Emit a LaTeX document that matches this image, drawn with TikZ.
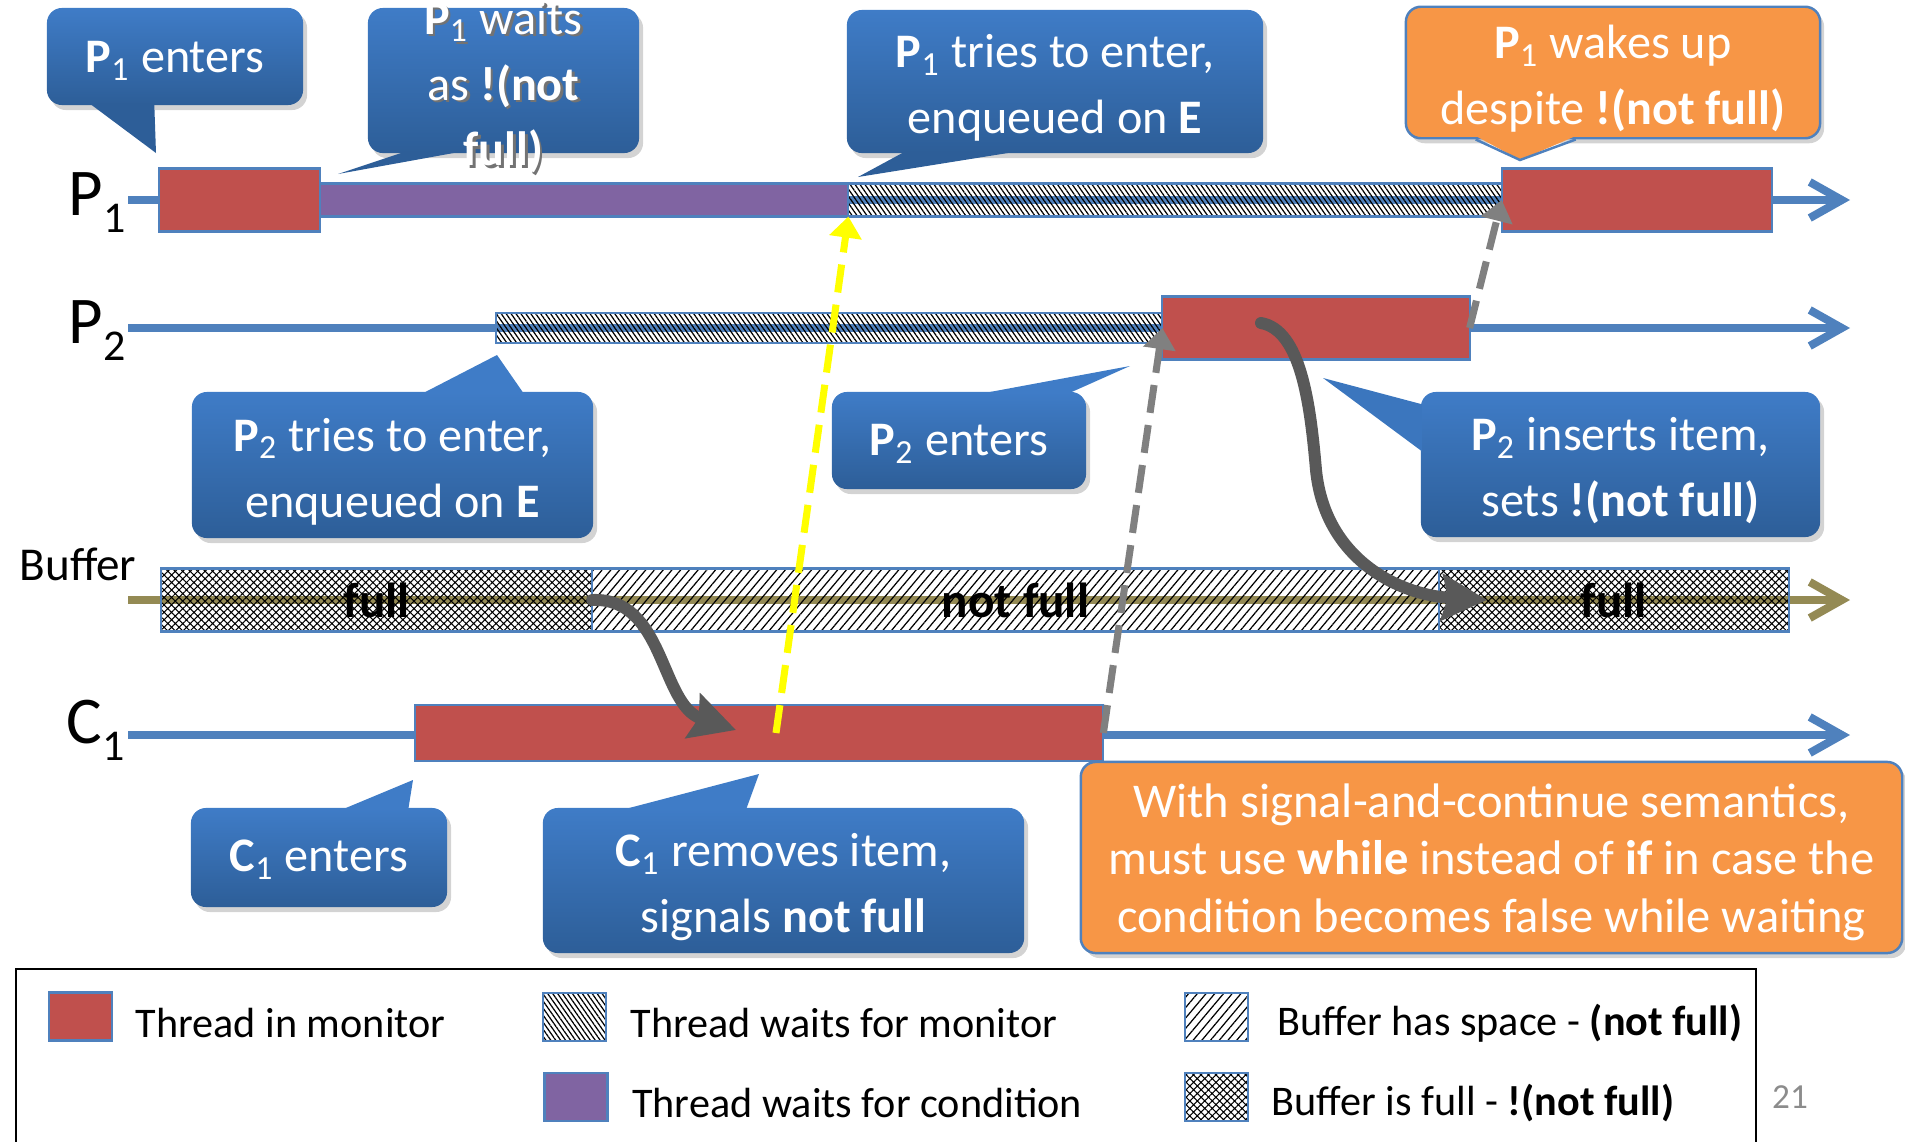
\documentclass[tikz,border=0pt]{standalone}
\usepackage{fontspec}
\setmainfont{Carlito}
\usetikzlibrary{positioning,arrows.meta,patterns.meta,shadows}

\definecolor{lineblue}{HTML}{4F81BD}
\definecolor{monred}{HTML}{C0504D}
\definecolor{condpurple}{HTML}{8064A2}
\definecolor{bufolive}{HTML}{948A54}
\definecolor{notetop}{HTML}{3F7CC7}
\definecolor{notebot}{HTML}{2D5E98}
\definecolor{noteorange}{HTML}{F79646}
\definecolor{arrowgray}{HTML}{808080}
\definecolor{flowgray}{HTML}{595959}
\definecolor{signyellow}{HTML}{FFFF00}

\newcommand\notefont{\fontsize{13.7}{18.7}\selectfont}
\newcommand\rowsub[1]{\raisebox{-0.17cm}{\fontsize{12.5}{12.5}\selectfont #1}}
% text of a callout, set a little below the middle of its box
\newcommand\notelines[2][-0.06cm]{\raisebox{#1}[\height][\depth]{\begin{tabular}{@{}c@{}}#2\end{tabular}}}
% white text with a grey shadow, for text that runs out of its box
\newcommand\shadowed[1]{\makebox[0pt][l]{\kern0.7pt\raisebox{-0.7pt}{\textcolor{black!55}{#1}}}#1}

\tikzset{
  rowline/.style={lineblue, line width=2.3pt, -{Straight Barb[length=0.32cm,width=0.36cm]}},
  rowlab/.style={font=\fontsize{19}{23}\selectfont, inner sep=0pt, anchor=base west},
  tbar/.style={draw=lineblue, line width=0.6pt, inner sep=0pt, outer sep=0pt, anchor=west},
  monpat/.style={pattern={Lines[angle=-55,distance=1.15pt,line width=0.35pt]}},
  spacepat/.style={pattern={Lines[angle=50,distance=1.9pt,line width=0.35pt]}},
  fullpat/.style={pattern={Hatch[angle=45,distance=1.5pt,line width=0.3pt]}},
  inmon/.style={tbar, fill=monred, minimum height=0.63cm},
  waitcond/.style={tbar, fill=condpurple, minimum height=0.33cm},
  waitmon/.style={tbar, monpat, minimum height=0.33cm},
  bufspace/.style={tbar, spacepat, minimum height=0.63cm, font=\fontsize{14}{16}\selectfont\bfseries},
  buffull/.style={tbar, fullpat, minimum height=0.63cm, font=\fontsize{14}{16}\selectfont\bfseries},
  notebox/.style={rounded corners=0.15cm, text=white, inner sep=0pt, font=\notefont,
    drop shadow={shadow xshift=0.04cm, shadow yshift=-0.05cm, opacity=0.35}},
  note/.style={notebox, top color=notetop, bottom color=notebot},
  warn/.style={notebox, fill=noteorange, draw=lineblue, line width=0.7pt},
  sigline/.style={line width=2pt, dash pattern=on 8pt off 3.5pt, -{Triangle[length=6pt,width=9pt]}},
  flow/.style={flowgray, line width=3.4pt, line cap=round, -{Stealth[length=0.45cm,width=0.46cm,inset=0.06cm]}},
  swatch/.style={draw=lineblue, line width=0.6pt, minimum width=0.63cm, minimum height=0.48cm, inner sep=0pt},
  legtext/.style={font=\fontsize{12}{15}\selectfont, inner sep=0pt, anchor=west, yshift=-0.06cm}
}

\begin{document}
\begin{tikzpicture}[x=0.01cm, y=-0.01cm]
\useasboundingbox (0,0) rectangle (1905,1142);

% time lines
\foreach \y in {200,328,735}
  \draw[rowline] (128,\y) -- (1850,\y);
\draw[rowline, bufolive] (128,600) -- (1850,600);

\node[rowlab] (p1lab) at (68,215) {P\rowsub{1}};
\node[rowlab] (p2lab) at (68,343) {P\rowsub{2}};
\node[rowlab] (c1lab) at (66,743) {C\rowsub{1}};
\node[rowlab, font=\fontsize{13.4}{16}\selectfont] (buflab) at (19,580) {Buffer};

% P1
\node[inmon, minimum width=1.61cm] (p1in) at (159,200) {};
\node[waitcond, minimum width=5.28cm, right=0pt of p1in] (p1cond) {};
\node[waitmon, minimum width=6.53cm, right=0pt of p1cond] (p1mon) {};
\node[inmon, minimum width=2.70cm, right=0pt of p1mon] (p1wake) {};

% P2
\node[waitmon, minimum width=6.66cm, minimum height=0.30cm] (p2mon) at (496,328) {};
\node[inmon, minimum width=3.07cm, right=0pt of p2mon] (p2in) {};

% Buffer
\node[buffull, minimum width=4.31cm] (buf1) at (161,600) {full};
\node[bufspace, minimum width=8.46cm, right=0pt of buf1] (buf2) {not full};
\node[buffull, minimum width=3.50cm, right=0pt of buf2] (buf3) {full};

% C1
\node[inmon, minimum width=6.88cm, minimum height=0.56cm] (c1in) at (415,733) {};

% callouts
\node[note, minimum width=2.56cm, minimum height=0.97cm] (p1enters) at (175,56.5) {\notelines[-0.03cm]{\textbf{P}\textsubscript{1} enters}};
\coordinate (p1enterstip) at (156,153);
\fill[notebot] ([xshift=0.44cm,yshift=0.5pt]p1enters.south west) -- (p1enterstip) -- ([xshift=1.08cm,yshift=0.5pt]p1enters.south west) -- cycle;

\node[note, minimum width=2.71cm, minimum height=1.45cm, inner ysep=-0.3cm] (p1waits) at (503.5,80.5) {\notelines[-0.065cm]{\shadowed{\textbf{P}\textsubscript{1} waits}\\\shadowed{as \textbf{!(not}}\\\shadowed{\textbf{full)}}}};
\coordinate (p1waitstip) at (338,174);
\fill[notebot] ([xshift=0.37cm,yshift=0.5pt]p1waits.south west) -- (p1waitstip) -- ([xshift=0.92cm,yshift=0.5pt]p1waits.south west) -- cycle;

\node[note, minimum width=4.16cm, minimum height=1.43cm] (p1tries) at (1055,81.5) {\notelines{\textbf{P}\textsubscript{1} tries to enter,\\enqueued on \textbf{E}}};
\coordinate (p1triestip) at (858,177);
\fill[notebot] ([xshift=0.58cm,yshift=0.5pt]p1tries.south west) -- (p1triestip) -- ([xshift=1.68cm,yshift=0.5pt]p1tries.south west) -- cycle;

\node[warn, minimum width=4.14cm, minimum height=1.29cm] (p1wakes) at (1613,72.5) {\notelines{\textbf{P}\textsubscript{1} wakes up\\despite \textbf{!(not full)}}};
\coordinate (p1wakestip) at (1520,160);
\fill[noteorange] ([xshift=0.71cm,yshift=1pt]p1wakes.south west) -- (p1wakestip) -- ([xshift=1.71cm,yshift=1pt]p1wakes.south west) -- cycle;
\draw[lineblue, line width=0.7pt] ([xshift=0.71cm]p1wakes.south west) -- (p1wakestip) -- ([xshift=1.71cm]p1wakes.south west);

\node[note, minimum width=4.01cm, minimum height=1.46cm] (p2tries) at (392.5,465) {\notelines{\textbf{P}\textsubscript{2} tries to enter,\\enqueued on \textbf{E}}};
\coordinate (p2triestip) at (497,355);
\fill[notetop] ([xshift=2.32cm,yshift=-0.5pt]p2tries.north west) -- (p2triestip) -- ([xshift=3.32cm,yshift=-0.5pt]p2tries.north west) -- cycle;

\node[note, minimum width=2.54cm, minimum height=0.97cm] (p2enters) at (959,440.5) {\notelines[-0.02cm]{\textbf{P}\textsubscript{2} enters}};
\coordinate (p2enterstip) at (1130,366);
\fill[notetop] ([xshift=1.53cm,yshift=-0.5pt]p2enters.north west) -- (p2enterstip) -- ([xshift=2.38cm,yshift=-0.5pt]p2enters.north west) -- cycle;

\node[note, minimum width=3.99cm, minimum height=1.45cm] (p2inserts) at (1620.5,464.5) {\notelines{\textbf{P}\textsubscript{2} inserts item,\\sets \textbf{!(not full)}}};
\coordinate (p2insertstip) at (1323,378);
\fill[notetop!80!notebot] ([xshift=0.5pt,yshift=-0.13cm]p2inserts.north west) -- (p2insertstip) -- ([xshift=0.5pt,yshift=-0.60cm]p2inserts.north west) -- cycle;

\node[note, minimum width=2.56cm, minimum height=0.99cm] (c1enters) at (319,857.5) {\notelines[-0.01cm]{\textbf{C}\textsubscript{1} enters}};
\coordinate (c1enterstip) at (413,780);
\fill[notetop] ([xshift=1.53cm,yshift=-0.5pt]c1enters.north west) -- (c1enterstip) -- ([xshift=2.18cm,yshift=-0.5pt]c1enters.north west) -- cycle;

\node[note, minimum width=4.81cm, minimum height=1.45cm] (c1removes) at (783.5,880.5) {\notelines{\textbf{C}\textsubscript{1} removes item,\\signals \textbf{not full}}};
\coordinate (c1removestip) at (759,774);
\fill[notetop] ([xshift=0.83cm,yshift=-0.5pt]c1removes.north west) -- (c1removestip) -- ([xshift=2.04cm,yshift=-0.5pt]c1removes.north west) -- cycle;

\node[warn, minimum width=8.21cm, minimum height=1.91cm, font=\fontsize{13.8}{16.3}\selectfont] (semantics) at (1491.5,857.5) {\notelines{With signal-and-continue semantics,\\must use \textbf{while} instead of \textbf{if} in case the\\condition becomes false while waiting}};

% hand-offs
\coordinate (c1sig) at (776,733);
\draw[sigline, signyellow] (c1sig) -- (p1mon.south west);
\draw[sigline, arrowgray] (c1in.east) -- (p2in.west);
\draw[sigline, arrowgray] (p2in.east) -- (p1wake.west);

\coordinate (c1take) at (736,730);
\draw[flow] (buf2.west) .. controls (665,597) and (660,705) .. (c1take);
\coordinate (p2put) at (1261,323);
\coordinate (bufput) at (1487,600);
\draw[flow] (p2put) .. controls (1300,330) and (1310,400) .. (1316,470) .. controls (1325,560) and (1400,595) .. (bufput);

% legend
\draw[line width=0.7pt] (16,969) rectangle (1756,1160);
\node[swatch, fill=monred] (kin) at (80.5,1016.5) {};
\node[legtext, right=0.22cm of kin] (kintext) {Thread in monitor};
\node[swatch, monpat] (kmon) at (574.5,1017) {};
\node[legtext, right=0.23cm of kmon] (kmontext) {Thread waits for monitor};
\node[swatch, fill=condpurple] (kcond) at (576,1097) {};
\node[legtext, right=0.23cm of kcond] (kcondtext) {Thread waits for condition};
\node[swatch, spacepat] (kspace) at (1216.5,1017) {};
\node[legtext, right=0.28cm of kspace] (kspacetext) {Buffer has space - \textbf{(not full)}};
\node[swatch, fullpat] (kfull) at (1216.5,1097) {};
\node[legtext, right=0.22cm of kfull] (kfulltext) {Buffer is full - \textbf{!(not full)}};

\node[font=\fontsize{10}{12}\selectfont, text=black!45] (slideno) at (1790,1097) {21};
\end{tikzpicture}
\end{document}
